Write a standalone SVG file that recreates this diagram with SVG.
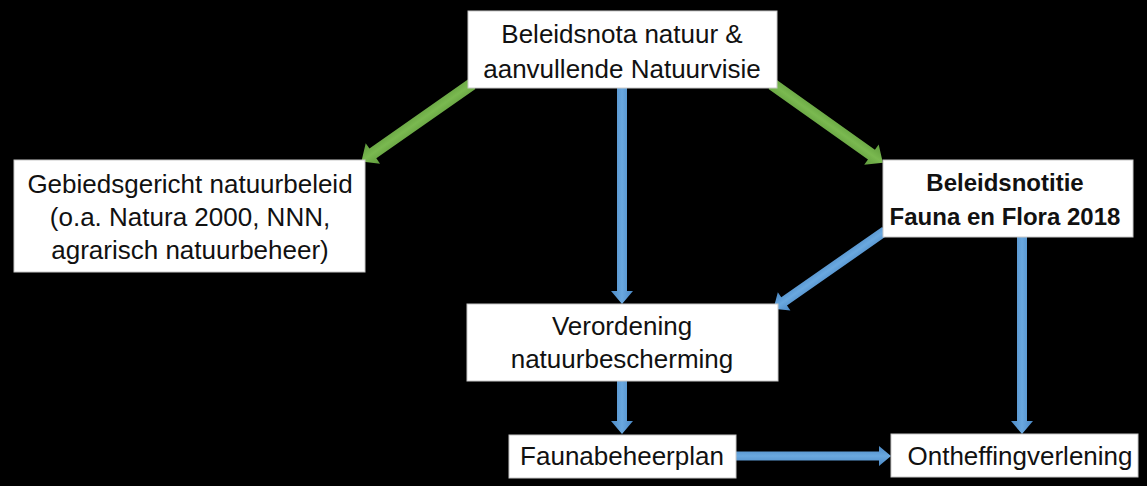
<svg xmlns="http://www.w3.org/2000/svg" width="1147" height="486" viewBox="0 0 1147 486">
<defs>
<linearGradient id="gb" x1="0" y1="0" x2="0" y2="1">
<stop offset="0" stop-color="#4a88c4"/>
<stop offset="0.5" stop-color="#6aa8df"/>
<stop offset="1" stop-color="#4a88c4"/>
</linearGradient>
<linearGradient id="gg" x1="0" y1="0" x2="0" y2="1">
<stop offset="0" stop-color="#5f9a3c"/>
<stop offset="0.5" stop-color="#7ab950"/>
<stop offset="1" stop-color="#5f9a3c"/>
</linearGradient>
</defs>
<style>
.box{fill:#ffffff;stroke:#c8c8c8;stroke-width:1}
.t{font-family:"Liberation Sans",Arial,sans-serif;font-size:26px;fill:#111111;text-anchor:middle}
.b{font-weight:bold;font-size:24px}
.blue{fill:url(#gb)}
.green{fill:url(#gg)}
</style>
<rect x="0" y="0" width="1147" height="486" fill="#000000"/>
<g id="connectors">
<g transform="translate(622,88) rotate(90)"><path class="blue" d="M0,-5 H203 V-11 L216,0 L203,11 V5 H0 Z"/></g>
<g transform="translate(472,84) rotate(145)"><path class="green" d="M0,-6 H121 V-12.5 L135,0 L121,12.5 V6 H0 Z"/></g>
<g transform="translate(772,84) rotate(35.4)"><path class="green" d="M0,-6 H122 V-12.5 L136,0 L122,12.5 V6 H0 Z"/></g>
<g transform="translate(885,231) rotate(145.1)"><path class="blue" d="M0,-5 H123 V-11 L136,0 L123,11 V5 H0 Z"/></g>
<g transform="translate(1022,237) rotate(90)"><path class="blue" d="M0,-5 H184 V-11 L197,0 L184,11 V5 H0 Z"/></g>
<g transform="translate(622,381) rotate(90)"><path class="blue" d="M0,-5 H40 V-11 L53,0 L40,11 V5 H0 Z"/></g>
<g transform="translate(736,456)"><path class="blue" d="M0,-4.5 H143 V-10 L155,0 L143,10 V4.5 H0 Z"/></g>
</g>
<g id="node-beleidsnota">
<rect class="box" x="468" y="11" width="309" height="77"/>
<text class="t" x="622" y="43">Beleidsnota natuur &amp;</text>
<text class="t" x="622" y="78">aanvullende Natuurvisie</text>
</g>
<g id="node-gebiedsgericht">
<rect class="box" x="14" y="160" width="351" height="112"/>
<text class="t" x="190" y="193">Gebiedsgericht natuurbeleid</text>
<text class="t" x="190" y="226">(o.a. Natura 2000, NNN,</text>
<text class="t" x="190" y="259">agrarisch natuurbeheer)</text>
</g>
<g id="node-beleidsnotitie">
<rect class="box" x="883" y="160" width="250" height="77"/>
<text class="t b" x="1005" y="191">Beleidsnotitie</text>
<text class="t b" x="1005" y="225">Fauna en Flora 2018</text>
</g>
<g id="node-verordening">
<rect class="box" x="467" y="304" width="311" height="77"/>
<text class="t" x="622" y="335">Verordening</text>
<text class="t" x="622" y="368">natuurbescherming</text>
</g>
<g id="node-faunabeheerplan">
<rect class="box" x="509" y="435" width="227" height="43"/>
<text class="t" x="622" y="465">Faunabeheerplan</text>
</g>
<g id="node-ontheffingverlening">
<rect class="box" x="891" y="434" width="247" height="43"/>
<text class="t" x="1020" y="465">Ontheffingverlening</text>
</g>
</svg>
